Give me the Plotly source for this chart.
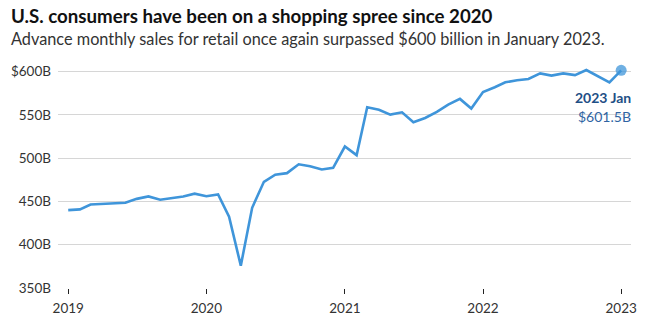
import pandas as pd
import plotly.graph_objects as go

months = pd.date_range("2019-01-01", "2023-01-01", freq="MS")
sales = [
    440.0, 440.8, 446.5, 447.0, 448.0, 448.5, 453.0, 455.8, 452.0, 453.5, 455.8, 459.0,
    456.0, 458.0, 432.3, 375.8, 442.7, 472.7, 481.0, 482.7, 493.0, 490.8, 486.9, 488.8,
    513.5, 503.5, 558.8, 556.0, 550.4, 553.0, 541.5, 546.5, 553.5, 562.0, 568.5, 557.3,
    576.5, 582.0, 587.7, 590.0, 591.5, 598.0, 595.4, 598.0, 596.0, 601.9, 595.0, 587.7,
    601.5,
]
y_ticks = [350, 400, 450, 500, 550, 600]
y_labels = ["350B", "400B", "450B", "500B", "550B", "$600B"]
x_ticks = ["2019-01-01", "2020-01-01", "2021-01-01", "2022-01-01", "2023-01-01"]
x_labels = ["2019", "2020", "2021", "2022", "2023"]

title = "U.S. consumers have been on a shopping spree since 2020"
subtitle = "Advance monthly sales for retail once again surpassed $600 billion in January 2023."
last_label = "2023 Jan"
last_value = "$601.5B"

LINE = "#3f95da"
FONT = "Lato"

fig = go.Figure()
fig.add_trace(go.Scatter(
    x=months, y=sales, mode="lines",
    line=dict(color=LINE, width=2.6),
    hoverinfo="skip", cliponaxis=False,
))
fig.add_trace(go.Scatter(
    x=[months[-1]], y=[sales[-1]], mode="markers",
    marker=dict(color=LINE, size=11, opacity=0.75),
    hoverinfo="skip", cliponaxis=False,
))

fig.add_annotation(x=months[-1], y=sales[-1], xref="x", yref="y",
                   text="<b>" + last_label + "</b>", showarrow=False,
                   xanchor="right", yanchor="middle", xshift=12, yshift=-27,
                   font=dict(family=FONT, size=14, color="#1f4f86"))
fig.add_annotation(x=months[-1], y=sales[-1], xref="x", yref="y",
                   text=last_value, showarrow=False,
                   xanchor="right", yanchor="middle", xshift=12, yshift=-46,
                   font=dict(family=FONT, size=14, color="#2f64a3"))

fig.add_annotation(x=-0.0855, y=1.2089, xref="paper", yref="paper",
                   text="<b>" + title + "</b>", showarrow=False,
                   xanchor="left", yanchor="middle",
                   font=dict(family=FONT, size=18.7, color="#111111"))
fig.add_annotation(x=-0.0855, y=1.1067, xref="paper", yref="paper",
                   text=subtitle, showarrow=False,
                   xanchor="left", yanchor="middle",
                   font=dict(family=FONT, size=16.3, color="#333333"))

fig.update_layout(
    width=649, height=324,
    margin=dict(l=58, r=18, t=63, b=36),
    paper_bgcolor="white", plot_bgcolor="white",
    showlegend=False,
    font=dict(family=FONT, size=13, color="#333333"),
    xaxis=dict(
        type="date", range=["2018-12-05", "2023-01-27"],
        tickvals=x_ticks, ticktext=x_labels,
        showgrid=False, zeroline=False, showline=False,
        ticks="outside", ticklen=5, tickwidth=1.3, tickcolor="#222222",
        ticklabelstandoff=3,
        tickfont=dict(family=FONT, size=13.5, color="#333333"),
        automargin=False,
    ),
    yaxis=dict(
        range=[350, 610],
        tickvals=y_ticks, ticktext=y_labels,
        showgrid=True, gridcolor="#d6d6d6", gridwidth=1,
        zeroline=False, showline=False, ticks="",
        ticklabelstandoff=6,
        tickfont=dict(family=FONT, size=13.5, color="#333333"),
        automargin=False,
    ),
)

fig.write_html("out.html")
